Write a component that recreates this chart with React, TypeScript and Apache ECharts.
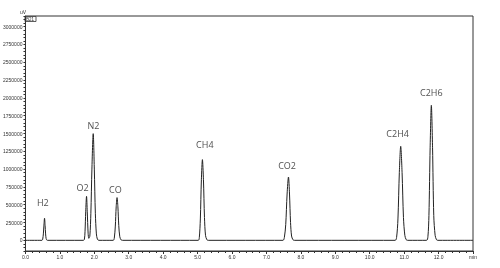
import React, { useEffect, useRef } from "react";
import * as echarts from "echarts";

// Retention time (min), signal (uV) — chromatogram trace
const traceTimes: number[] = [
  0, 0.48, 0.5, 0.52, 0.535, 0.554, 0.57, 0.585, 0.6, 0.62, 0.65,
  1.68, 1.71, 1.73, 1.75, 1.774, 1.795, 1.82, 1.84,
  1.87, 1.9, 1.93, 1.968, 2.0, 2.03, 2.06, 2.09, 2.13,
  2.55, 2.58, 2.61, 2.635, 2.66, 2.685, 2.71, 2.74, 2.78, 2.82,
  5.02, 5.05, 5.08, 5.11, 5.14, 5.17, 5.2, 5.23, 5.27, 5.31,
  7.48, 7.52, 7.56, 7.6, 7.64, 7.67, 7.7, 7.73, 7.77, 7.81,
  10.74, 10.78, 10.82, 10.86, 10.9, 10.94, 10.98, 11.02, 11.06, 11.1,
  11.65, 11.69, 11.72, 11.755, 11.79, 11.825, 11.86, 11.9, 11.94, 11.98,
  13,
];
const traceValues: number[] = [
  0, 0, 15000, 90000, 200000, 310000, 210000, 90000, 25000, 3000, 0,
  0, 10000, 120000, 400000, 618000, 400000, 100000, 28000,
  60000, 380000, 1000000, 1498000, 1000000, 380000, 90000, 15000, 0,
  0, 30000, 200000, 470000, 600000, 470000, 210000, 50000, 5000, 0,
  0, 40000, 300000, 850000, 1133000, 850000, 320000, 70000, 8000, 0,
  0, 40000, 220000, 650000, 889000, 650000, 250000, 60000, 8000, 0,
  0, 40000, 300000, 950000, 1320000, 950000, 320000, 70000, 8000, 0,
  0, 50000, 350000, 1300000, 1896000, 1300000, 350000, 70000, 8000, 0,
  0,
];

// Peak labels
const peakNames: string[] = ["H2", "O2", "N2", "CO", "CH4", "CO2", "C2H4", "C2H6"];
const labelTimes: number[] = [0.505, 1.66, 1.976, 2.61, 5.21, 7.6, 10.81, 11.79];
const labelValues: number[] = [534000, 744000, 1615000, 716000, 1348000, 1053000, 1503000, 2079000];

// Axes
const xMin = 0;
const xMax = 13;
const yMin = -150000;
const yMax = 3150000;
const yLabelStep = 250000;
const yLabelMax = 3000000;

export default function App() {
  const ref = useRef<HTMLDivElement>(null);

  useEffect(() => {
    if (!ref.current) return;
    const chart = echarts.init(ref.current, undefined, { renderer: "svg" });
    const trace = traceTimes.map((t, i) => [t, traceValues[i]]);
    const labels = peakNames.map((n, i) => ({ name: n, value: [labelTimes[i], labelValues[i]] }));
    const axisColor = "#333";
    chart.setOption({
      animation: false,
      backgroundColor: "#fff",
      grid: {
        left: 24,
        right: 27,
        top: 16,
        bottom: 17,
        show: true,
        borderColor: axisColor,
        borderWidth: 1,
        backgroundColor: "transparent",
      },
      xAxis: {
        type: "value",
        min: xMin,
        max: xMax,
        interval: 1,
        axisLine: { onZero: false, lineStyle: { color: axisColor, width: 1 } },
        axisTick: { show: true, length: 3, lineStyle: { color: axisColor } },
        minorTick: { show: true, splitNumber: 5, length: 2, lineStyle: { color: axisColor } },
        splitLine: { show: false },
        axisLabel: {
          fontSize: 5,
          color: "#333",
          margin: 3,
          fontFamily: "Liberation Sans, Arial, sans-serif",
          formatter: (v: number) => (v === xMax ? "min" : v.toFixed(1)),
        },
      },
      yAxis: {
        type: "value",
        min: yMin,
        max: yMax,
        interval: 50000,
        axisLine: { show: true, lineStyle: { color: axisColor, width: 1 } },
        axisTick: { show: true, length: 2, lineStyle: { color: axisColor } },
        splitLine: { show: false },
        axisLabel: {
          fontSize: 5,
          color: "#333",
          margin: 3,
          fontFamily: "Liberation Sans, Arial, sans-serif",
          formatter: (v: number) =>
            v >= 0 && v <= yLabelMax && v % yLabelStep === 0 ? String(v) : "",
        },
      },
      graphic: [
        {
          type: "text",
          left: 20,
          top: 9,
          style: { text: "uV", fontSize: 5, fill: "#333", fontFamily: "Liberation Sans, Arial, sans-serif" },
        },
        {
          type: "rect",
          shape: { x: 25, y: 16.5, width: 11, height: 5 },
          style: { fill: "#fff", stroke: "#333", lineWidth: 0.8 },
        },
        {
          type: "text",
          left: 26,
          top: 16.5,
          style: { text: "B21", fontSize: 4.5, fill: "#333", fontFamily: "Liberation Sans, Arial, sans-serif" },
        },
      ],
      series: [
        {
          type: "line",
          data: trace,
          symbol: "none",
          smooth: 0.3,
          lineStyle: { color: "#222", width: 1 },
          silent: true,
        },
        {
          type: "scatter",
          data: labels,
          symbolSize: 1,
          itemStyle: { color: "rgba(255,255,255,0)" },
          label: {
            show: true,
            position: "top",
            distance: -5,
            formatter: "{b}",
            fontSize: 9,
            color: "#222",
            textBorderWidth: 0,
            textBorderColor: "transparent",
            fontFamily: "Open Sans, Noto Sans, sans-serif",
          },
          labelLayout: { hideOverlap: false },
          silent: true,
        },
      ],
    });
    return () => chart.dispose();
  }, []);

  return (
    <div
      ref={ref}
      style={{
        position: "fixed",
        left: 0,
        top: 0,
        width: 500,
        height: 268,
        background: "#fff",
        opacity: 0.999,
        willChange: "transform",
      }}
    />
  );
}
